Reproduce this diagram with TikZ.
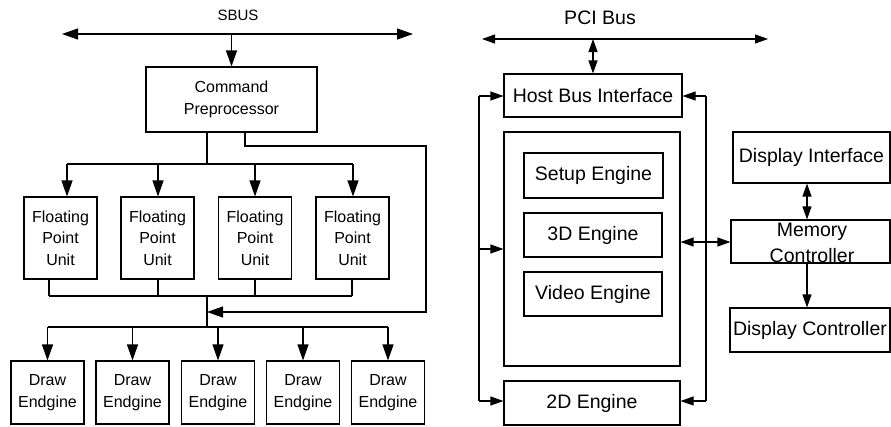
\documentclass[tikz,border=0pt]{standalone}
\usepackage{fontspec}
\setmainfont{Liberation Sans}
\usetikzlibrary{arrows.meta}

\begin{document}
\begin{tikzpicture}[x=1pt,y=-1pt,
  line width=1.1pt,
  box/.style={draw, rectangle, inner sep=0pt, align=center},
  lefttext/.style={font=\fontsize{16}{21.7}\selectfont},
  righttext/.style={font=\fontsize{19.5}{26}\selectfont},
  arrL/.style={-{Triangle[length=16pt,width=11pt]}},
  arrLL/.style={{Triangle[length=16pt,width=11pt]}-{Triangle[length=16pt,width=11pt]}},
  arrR/.style={-{Triangle[length=13pt,width=9pt]}},
  arrRR/.style={{Triangle[length=13pt,width=9pt]}-{Triangle[length=13pt,width=9pt]}},
]
\useasboundingbox (0,0) rectangle (891,426);

% ---------------- SBUS side ----------------
\node[font=\fontsize{15}{18}\selectfont] (sbuslbl) at (238,15) {SBUS};
\coordinate (sbl) at (62,34);
\coordinate (sbr) at (413,34);
\draw[arrLL] (sbl) -- (sbr);

\node[box, lefttext, minimum width=171pt, minimum height=65pt] (cp) at (231.5,99.5) {Command\\Preprocessor};
\draw[arrL] (cp.north |- sbl) -- (cp.north);

\foreach \n/\cx in {1/60.5,2/157.5,3/255,4/352.5}{
  \node[box, lefttext, minimum width=73pt, minimum height=82pt] (fpu\n) at (\cx,238) {Floating\\Point\\Unit};
}
\foreach \n/\cx in {1/47.5,2/132.5,3/218,4/303,5/388}{
  \node[box, lefttext, minimum width=73pt, minimum height=63pt] (de\n) at (\cx,392.5) {Draw\\Endgine};
}

% fan-out from the preprocessor to the floating point units
\coordinate (cpa) at (207,164);
\draw (cpa |- cp.south) -- (cpa);
\coordinate (fa1) at (67,164);
\coordinate (fa2) at (158,164);
\coordinate (fa3) at (255,164);
\coordinate (fa4) at (353,164);
\draw (fa1) -- (fa4);
\foreach \n in {1,...,4}{ \draw[arrL] (fa\n) -- (fa\n |- fpu\n.north); }

% bypass path from the preprocessor to the draw engines
\coordinate (byp) at (426,146);
\coordinate (jn) at (207,312);
\draw[arrL] (cp.south -| 245,0) |- (byp) |- (jn);

% fan-in from the floating point units
\coordinate (fb1) at (49,296);
\coordinate (fb2) at (158,296);
\coordinate (fb3) at (255,296);
\coordinate (fb4) at (352,296);
\foreach \n in {1,...,4}{ \draw (fb\n |- fpu\n.south) -- (fb\n); }
\draw (fb1) -- (fb4);
\coordinate (fbm) at (207,296);
\coordinate (dsp) at (207,327);
\draw (fbm) -- (dsp);

% fan-out to the draw engines
\coordinate (dl) at (47.5,327);
\coordinate (dr) at (388,327);
\draw (dl) -- (dr);
\foreach \n in {1,...,5}{ \draw[arrL] (de\n.north |- dl) -- (de\n.north); }

% ---------------- PCI side ----------------
\node[righttext] (pcilbl) at (600,18) {PCI Bus};
\coordinate (pl) at (482,39);
\coordinate (pr) at (768,39);
\draw[arrRR] (pl) -- (pr);

\node[box, righttext, minimum width=178pt, minimum height=43pt] (hbi) at (593,95.5) {Host Bus Interface};
\draw[arrRR] (hbi.north |- pl) -- (hbi.north);

\node[box, minimum width=176pt, minimum height=234pt] (core) at (592,249) {};
\node[box, righttext, minimum width=139pt, minimum height=45pt] (setup) at (593.5,175.5) {Setup Engine};
\node[box, righttext, minimum width=138pt, minimum height=44pt] (e3d) at (593,235) {3D Engine};
\node[box, righttext, minimum width=138pt, minimum height=44pt] (video) at (593,294) {Video Engine};
\node[box, righttext, minimum width=176pt, minimum height=44pt] (e2d) at (592,403) {2D Engine};

% left feedback loop
\coordinate (lt) at (479,96);
\coordinate (lm) at (479,249);
\coordinate (lb) at (479,401);
\draw (lt) -- (lb);
\draw[arrR] (lt) -- (lt -| hbi.west);
\draw[arrR] (lm) -- (core.west);
\draw[arrR] (lb) -- (lb -| e2d.west);

% right feedback loop
\coordinate (rt) at (706,96);
\coordinate (rb) at (706,401);
\draw (rt) -- (rb);
\draw[arrR] (rt) -- (rt -| hbi.east);
\draw[arrR] (rb) -- (rb -| e2d.east);

% memory subsystem
\node[box, righttext, minimum width=157pt, minimum height=51pt] (di) at (811.5,157.5) {Display Interface};
\node[box, minimum width=159pt, minimum height=43pt] (mc) at (810.5,241.5) {};
\node[righttext, align=center, inner sep=0pt] (mct) at (812,243) {Memory\\Controller};
\node[box, righttext, minimum width=160pt, minimum height=44pt] (dc) at (810,330) {Display Controller};

\coordinate (mx) at (807,0);
\draw[arrRR] (mx |- di.south) -- (mx |- mc.north);
\draw[arrR] (mx |- mc.south) -- (mx |- dc.north);
\draw[arrRR] (core.east |- 0,242) -- (mc.west |- 0,242);

\end{tikzpicture}
\end{document}
